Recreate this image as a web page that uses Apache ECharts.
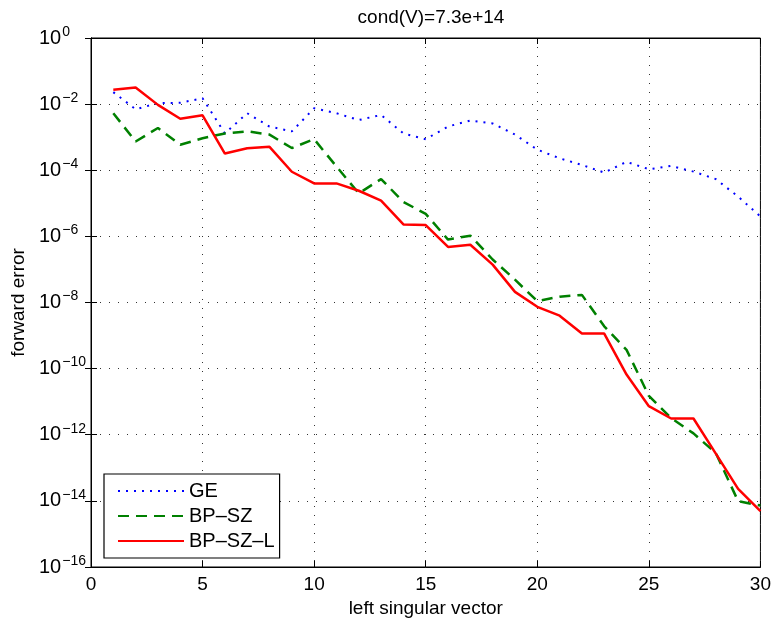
<!DOCTYPE html>
<html>
<head>
<meta charset="utf-8">
<script src="https://cdn.jsdelivr.net/npm/echarts@6/dist/echarts.min.js"></script>
<style>
  html, body { margin: 0; padding: 0; background: #fff; }
  #chart { width: 774px; height: 623px; }
</style>
</head>
<body>
<div id="chart"></div>
<script>
// left singular vector index
const vectorIdx = [1, 2, 3, 4, 5, 6, 7, 8, 9, 10, 11, 12, 13, 14, 15,
  16, 17, 18, 19, 20, 21, 22, 23, 24, 25, 26, 27, 28, 29, 30]

// forward error
const geErr = [2.3e-2, 7e-3, 1.07e-2, 1.1e-2, 1.5e-2, 1.3e-3, 5.3e-3, 2.1e-3, 1.5e-3, 7.5e-3,
  5.3e-3, 3.3e-3, 4.7e-3, 1.3e-3, 8.7e-4, 2.1e-3, 3.2e-3, 2.6e-3, 1.2e-3, 4.2e-4,
  2.3e-4, 1.45e-4, 8.5e-5, 1.8e-4, 1.07e-4, 1.35e-4, 9.1e-5, 5.4e-5, 1.6e-5, 4e-6]
const bpszErr = [5.3e-3, 7.4e-4, 1.9e-3, 5.9e-4, 9.3e-4, 1.3e-3, 1.5e-3, 1.2e-3, 4.7e-4, 8.7e-4,
  1.3e-4, 2e-5, 5.4e-5, 1.1e-5, 4.8e-6, 8e-7, 1.05e-6, 2e-7, 4.9e-8, 1.1e-8,
  1.5e-8, 1.7e-8, 1.9e-9, 3.7e-10, 1.5e-11, 3.2e-12, 1.1e-12, 2.8e-13, 9.8e-15, 7.2e-15]
const bpszlErr = [2.7e-2, 3.2e-2, 9.5e-3, 3.6e-3, 4.6e-3, 3.2e-4, 4.6e-4, 5.1e-4, 9e-5, 4e-5,
  4e-5, 2.4e-5, 1.2e-5, 2.3e-6, 2.2e-6, 4.8e-7, 5.6e-7, 1.4e-7, 2.1e-8, 7.4e-9,
  4e-9, 1.15e-9, 1.15e-9, 6.6e-11, 7.3e-12, 3.1e-12, 3.1e-12, 2.7e-13, 2.3e-14, 4.9e-15]

const seriesNames = ['GE', 'BP\u2013SZ', 'BP\u2013SZ\u2013L']

const font = '"Liberation Sans", Arial, Helvetica, sans-serif'

function pairs(ys) {
  return vectorIdx.map((x, i) => [x, ys[i]])
}

const gridLine = {
  show: true,
  lineStyle: { color: '#333', width: 1, type: [1, 8] }
}

const chart = echarts.init(document.getElementById('chart'))
chart.setOption({
  backgroundColor: '#fff',
  animation: false,
  textStyle: { fontFamily: font },
  title: {
    text: 'cond(V)=7.3e+14',
    left: 426,
    textAlign: 'center',
    top: 3,
    textStyle: { fontFamily: font, fontSize: 19, fontWeight: 'normal', color: '#000' }
  },
  grid: {
    left: 91,
    right: 13,
    top: 38,
    bottom: 55,
    show: true,
    borderColor: '#000',
    borderWidth: 1
  },
  legend: {
    orient: 'vertical',
    left: 104,
    top: 474,
    data: seriesNames,
    backgroundColor: '#fff',
    borderColor: '#000',
    borderWidth: 1.2,
    padding: [7, 5, 7, 13],
    itemWidth: 66,
    itemHeight: 14,
    itemGap: 5,
    itemStyle: { opacity: 0 },
    textStyle: { fontFamily: font, fontSize: 20, color: '#000' }
  },
  xAxis: [
    {
      type: 'value',
      min: 0,
      max: 30,
      interval: 5,
      name: 'left singular vector',
      nameLocation: 'middle',
      nameGap: 32,
      nameTextStyle: { fontFamily: font, fontSize: 19, color: '#000' },
      axisLine: { lineStyle: { color: '#000' } },
      axisTick: { inside: true, length: 6, lineStyle: { color: '#000' } },
      axisLabel: { fontFamily: font, fontSize: 19, color: '#000', margin: 8 },
      splitLine: gridLine
    },
    {
      type: 'value',
      position: 'top',
      min: 0,
      max: 30,
      interval: 5,
      axisLine: { lineStyle: { color: '#000' } },
      axisTick: { inside: true, length: 6, lineStyle: { color: '#000' } },
      axisLabel: { show: false },
      splitLine: { show: false }
    }
  ],
  yAxis: [
    {
      type: 'log',
      logBase: 10,
      min: 1e-16,
      max: 1,
      interval: 2,
      name: 'forward error',
      nameLocation: 'middle',
      nameGap: 62,
      nameTextStyle: { fontFamily: font, fontSize: 19, color: '#000' },
      axisLine: { lineStyle: { color: '#000' } },
      axisTick: { inside: true, length: 6, lineStyle: { color: '#000' } },
      axisLabel: {
        margin: 52,
        align: 'left',
        color: '#000',
        formatter: function (v) {
          const e = Math.round(Math.log10(v))
          return '{b|10}{e|' + String(e).replace('-', '\u2212') + '}'
        },
        rich: {
          b: { fontFamily: font, fontSize: 20, color: '#000' },
          e: { fontFamily: font, fontSize: 14, color: '#000', verticalAlign: 'bottom', padding: [0, 0, 12, 1] }
        }
      },
      splitLine: gridLine
    },
    {
      type: 'log',
      logBase: 10,
      position: 'right',
      min: 1e-16,
      max: 1,
      interval: 2,
      axisLine: { lineStyle: { color: '#000' } },
      axisTick: { inside: true, length: 6, lineStyle: { color: '#000' } },
      axisLabel: { show: false },
      splitLine: { show: false }
    }
  ],
  series: [
    {
      name: seriesNames[0],
      type: 'line',
      symbol: 'none',
      data: pairs(geErr),
      lineStyle: { color: '#0000ff', width: 2, type: [2, 6] },
      itemStyle: { color: '#0000ff' },
      z: 3
    },
    {
      name: seriesNames[1],
      type: 'line',
      symbol: 'none',
      data: pairs(bpszErr),
      lineStyle: { color: '#008000', width: 2.5, type: [11, 7] },
      itemStyle: { color: '#008000' },
      z: 4
    },
    {
      name: seriesNames[2],
      type: 'line',
      symbol: 'none',
      data: pairs(bpszlErr),
      lineStyle: { color: '#ff0000', width: 2.5 },
      itemStyle: { color: '#ff0000' },
      z: 5
    }
  ]
})
</script>
</body>
</html>
